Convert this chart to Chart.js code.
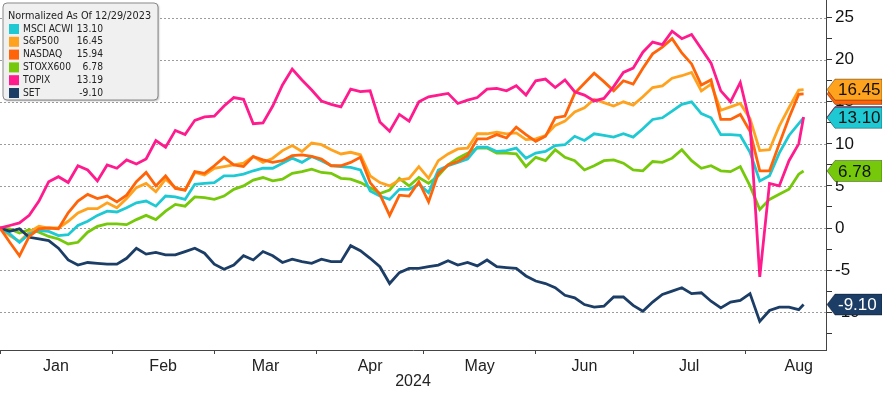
<!DOCTYPE html>
<html>
<head>
<meta charset="utf-8">
<script src="https://cdn.jsdelivr.net/npm/chart.js@4.4.1/dist/chart.umd.min.js"></script>
<style>
  html, body { margin: 0; padding: 0; background: #fff; }
  #wrap { width: 882px; height: 393px; position: relative; }
</style>
</head>
<body>
<div id="wrap"><canvas id="chart"></canvas></div>
<script>
// trading-day index (weekdays), 0 = Jan 1 2024
const days = [0,2,4,6,8,10,12,14,16,18,20,22,24,26,28,30,32,34,36,38,40,42,44,46,48,50,
    52,54,56,58,60,62,64,66,68,70,72,74,76,78,80,82,84,86,88,90,92,94,96,98,100,102,104,
    106,108,110,112,114,116,118,120,122,124,126,128,130,132,134,136,138,140,142,144,146,
    148,150,152,154,156,158,160,162,164,165];

const monthNames = ['Jan', 'Feb', 'Mar', 'Apr', 'May', 'Jun', 'Jul', 'Aug'];
const monthStarts = [0, 23, 44, 65, 87, 110, 130, 153, 175];
const yTickValues = [-12.5, -10, -7.5, -5, -2.5, 0, 2.5, 5, 7.5, 10, 12.5, 15, 17.5, 20, 22.5, 25];

const seriesNames = ['MSCI ACWI', 'S&P500', 'NASDAQ', 'STOXX600', 'TOPIX', 'SET'];
const seriesColors = ['#1fc9d3', '#ffa31f', '#ff6408', '#76c80a', '#ff1b8d', '#1b3d66'];
const lastValues = [13.10, 16.45, 15.94, 6.78, 13.19, -9.10];

const msci = [0,-0.7,-1.7,-0.7,-0.3,-0.4,-0.9,-0.8,0.3,0.8,1.5,2.0,1.9,2.4,3.0,3.2,2.6,3.8,3.7,3.4,
    5.2,5.3,5.4,6.2,6.2,6.4,6.8,7.1,7.1,7.7,8.3,7.8,8.5,8.0,7.4,7.3,7.2,6.9,4.4,3.8,
    3.4,4.6,4.6,5.2,4.2,6.9,7.4,7.8,8.2,9.6,9.6,9.1,9.2,9.5,8.3,8.9,9.1,9.8,9.9,10.9,
    10.4,11.2,11.0,10.8,11.2,10.8,11.8,12.9,13.1,13.9,14.7,15.0,13.6,13.1,11.1,11.1,11.0,9.0,5.6,6.2,
    8.9,11.0,12.4,13.10];
const spx = [0,-0.9,-1.6,-0.5,0.2,0,0,0.8,1.8,2.3,2.3,3.0,2.4,3.5,4.8,5.3,4.3,5.8,4.8,4.5,
    6.6,6.3,7.1,7.3,7.5,7.7,8.5,7.8,8.3,9.2,9.8,9.1,10.1,9.9,9.3,8.8,9.0,8.7,6.2,5.4,
    5.0,5.7,5.9,7.3,5.9,8.0,8.8,9.4,9.5,11.2,11.2,11.4,11.2,11.3,10.5,10.6,11.0,12.2,12.7,13.8,
    14.3,15.3,14.9,14.5,15.0,14.6,15.6,16.7,16.9,17.8,18.1,18.5,16.3,17.1,14.0,14.4,14.8,13.0,9.2,9.3,
    12.1,14.3,16.4,16.45];
const nasdaq = [0,-1.7,-3.3,-1.0,-0.1,0,-0.1,1.8,3.2,4.0,3.5,3.8,3.1,3.9,5.5,6.6,5.0,6.2,4.7,4.5,
    6.7,6.5,7.4,8.4,7.5,7.3,8.5,8.1,7.8,8.0,8.6,8.7,8.5,8.2,7.4,7.4,7.8,8.4,5.4,4.0,
    1.5,3.9,3.8,5.5,3.1,6.5,7.5,7.9,8.6,10.6,10.6,11.1,10.7,12.0,11.1,10.3,10.9,13.1,13.3,16.0,
    17.2,18.4,17.4,16.3,17.5,17.1,19.0,20.7,21.5,22.5,20.8,19.5,17.0,17.6,12.9,12.9,13.5,11.5,6.8,6.8,
    10.0,13.1,15.9,15.94];
const stoxx = [0,-0.1,-0.6,-0.2,-0.5,-1.0,-1.3,-1.9,-1.7,-0.5,0.2,0.5,0.5,0.4,1.0,1.5,1.0,2.0,2.8,2.6,
    3.7,3.6,3.4,3.8,4.6,5.0,5.7,6.0,5.6,5.8,6.5,6.7,7.0,6.6,6.5,5.9,5.8,5.4,4.8,4.1,
    4.5,5.9,5.0,6.0,5.3,6.2,7.5,8.3,8.9,9.5,9.5,8.9,8.9,8.8,7.3,8.4,8.0,9.3,8.4,8.0,
    6.9,7.4,8.0,8.1,7.7,6.9,6.8,7.9,7.8,8.3,9.3,8.0,7.1,7.4,6.8,6.7,7.3,5.0,2.2,3.4,
    4.0,4.6,6.4,6.78];
const topix = [0,0.3,0.6,1.5,3.2,5.5,6.1,5.4,7.4,6.9,5.6,7.5,7.1,8.1,7.6,8.2,10.4,9.6,11.6,11.1,
    12.8,13.2,13.3,14.5,15.5,15.3,12.4,12.5,14.5,17.0,18.9,17.6,16.4,15.1,14.7,14.4,16.5,16.2,16.3,12.6,
    11.5,13.5,12.7,15.0,15.6,15.8,16.0,14.8,15.2,15.5,16.5,16.6,16.3,16.9,15.8,17.5,17.7,16.7,17.6,16.2,
    15.8,15.1,15.4,16.8,18.5,19.0,20.9,22.1,21.8,23.4,22.5,23.0,21.3,19.6,16.3,15.0,17.3,12.5,-5.8,5.3,
    5.0,8.0,10.0,13.19];
const setIdx = [0,-0.4,-0.1,-1.1,-1.3,-1.5,-2.4,-3.8,-4.4,-4.1,-4.2,-4.3,-4.3,-3.6,-2.4,-3.1,-2.9,-3.2,-3.2,-2.8,
    -2.4,-3.0,-4.3,-4.9,-4.4,-3.3,-3.8,-2.8,-3.3,-4.1,-3.7,-4.0,-4.2,-3.7,-4.0,-4.0,-2.1,-2.7,-3.6,-4.6,
    -6.6,-5.3,-4.8,-4.8,-4.6,-4.4,-3.9,-4.4,-4.1,-4.5,-3.8,-4.6,-4.7,-4.8,-5.7,-6.3,-6.6,-7.1,-8.0,-8.3,
    -9.1,-9.4,-9.3,-8.2,-8.2,-9.2,-9.9,-8.8,-7.9,-7.5,-7.1,-7.8,-7.7,-8.7,-9.5,-8.8,-8.6,-7.8,-11.1,-9.8,
    -9.4,-9.4,-9.7,-9.10];

const allSeries = [msci, spx, nasdaq, stoxx, topix, setIdx];
const drawOrder = [4, 5, 2, 6, 1, 3]; // lower = on top

const FONT = "'Liberation Sans', Arial, sans-serif";
const LEGEND_FONT = "'DejaVu Sans Condensed', 'DejaVu Sans', sans-serif";

function roundRect(ctx, x, y, w, h, r) {
    ctx.beginPath();
    ctx.moveTo(x + r, y);
    ctx.lineTo(x + w - r, y);
    ctx.quadraticCurveTo(x + w, y, x + w, y + r);
    ctx.lineTo(x + w, y + h - r);
    ctx.quadraticCurveTo(x + w, y + h, x + w - r, y + h);
    ctx.lineTo(x + r, y + h);
    ctx.quadraticCurveTo(x, y + h, x, y + h - r);
    ctx.lineTo(x, y + r);
    ctx.quadraticCurveTo(x, y, x + r, y);
    ctx.closePath();
}

// dotted horizontal grid at the labelled ticks
const dottedGrid = {
    id: 'dottedGrid',
    beforeDatasetsDraw(chart) {
        const { ctx, chartArea: a } = chart;
        const yScale = chart.scales.y;
        ctx.save();
        ctx.setLineDash([2, 2]);
        ctx.strokeStyle = '#9c9c9c';
        ctx.lineWidth = 1;
        yTickValues.filter(v => v % 5 === 0).forEach(v => {
            const py = Math.round(yScale.getPixelForValue(v)) + 0.5;
            ctx.beginPath();
            ctx.moveTo(a.left, py);
            ctx.lineTo(a.right, py);
            ctx.stroke();
        });
        ctx.restore();
    }
};

// legend box and the value tags on the right axis
const overlay = {
    id: 'overlay',
    afterDraw(chart) {
        const ctx = chart.ctx;
        const yScale = chart.scales.y;

        ctx.save();
        ctx.shadowColor = 'rgba(0,0,0,0.3)';
        ctx.shadowOffsetX = 1;
        ctx.shadowOffsetY = 1;
        ctx.shadowBlur = 2;
        roundRect(ctx, 3, 3, 155, 97, 4);
        ctx.fillStyle = '#f0f0f0';
        ctx.fill();
        ctx.restore();
        ctx.save();
        roundRect(ctx, 3, 3, 155, 97, 4);
        ctx.strokeStyle = '#8a8a8a';
        ctx.lineWidth = 1;
        ctx.stroke();

        ctx.fillStyle = '#222';
        ctx.textBaseline = 'middle';
        ctx.textAlign = 'left';
        ctx.font = '10.8px ' + LEGEND_FONT;
        ctx.fillText('Normalized As Of 12/29/2023', 8, 16);
        ctx.font = '10.2px ' + LEGEND_FONT;
        seriesNames.forEach((name, i) => {
            const yy = 29 + i * 12.8;
            ctx.fillStyle = seriesColors[i];
            ctx.fillRect(9, yy - 5, 10, 10);
            ctx.fillStyle = '#222';
            ctx.textAlign = 'left';
            ctx.fillText(name, 23, yy);
            ctx.textAlign = 'right';
            ctx.fillText(lastValues[i].toFixed(2), 103, yy);
        });

        const tagOrder = [5, 4, 3, 2, 1, 0];
        ctx.font = '17px ' + FONT;
        ctx.textAlign = 'left';
        tagOrder.forEach(i => {
            const yy = yScale.getPixelForValue(lastValues[i]);
            ctx.beginPath();
            ctx.moveTo(827, yy);
            ctx.lineTo(835, yy - 10.5);
            ctx.lineTo(882, yy - 10.5);
            ctx.lineTo(882, yy + 10.5);
            ctx.lineTo(835, yy + 10.5);
            ctx.closePath();
            ctx.fillStyle = seriesColors[i];
            ctx.fill();
            ctx.strokeStyle = 'rgba(0,0,0,0.35)';
            ctx.lineWidth = 1;
            ctx.stroke();
            ctx.fillStyle = i === 5 ? '#fff' : '#111';
            ctx.fillText(lastValues[i].toFixed(2), 838, yy + 1);
        });
        ctx.restore();
    }
};

const datasets = allSeries.map((vals, i) => ({
    label: seriesNames[i],
    data: days.map((d, k) => ({ x: d, y: vals[k] })),
    borderColor: seriesColors[i],
    borderWidth: 2.8,
    pointRadius: 0,
    tension: 0,
    order: drawOrder[i],
    xAxisID: 'x',
    yAxisID: 'y'
}));

new Chart(document.getElementById('chart'), {
    type: 'line',
    data: { datasets },
    plugins: [dottedGrid, overlay],
    options: {
        responsive: true,
        maintainAspectRatio: false,
        animation: false,
        layout: { padding: 0 },
        plugins: { legend: { display: false }, tooltip: { enabled: false } },
        scales: {
            x: {
                type: 'linear',
                position: 'bottom',
                min: 0,
                max: 169.6,
                weight: 0,
                afterBuildTicks: s => { s.ticks = monthStarts.filter(v => v <= 169.6).map(v => ({ value: v })); },
                afterFit: s => { s.height = 5; s.paddingLeft = 0; s.paddingRight = 0; },
                ticks: { callback: () => '', autoSkip: false, maxRotation: 0 },
                grid: { drawOnChartArea: false, drawTicks: true, tickLength: 4, tickColor: '#444' },
                border: { display: true, color: '#444', width: 1 }
            },
            x2: {
                type: 'linear',
                position: 'bottom',
                min: 0,
                max: 169.6,
                weight: 1,
                afterBuildTicks: s => {
                    s.ticks = monthNames.map((m, k) => ({ value: (monthStarts[k] + monthStarts[k + 1]) / 2 }));
                },
                afterFit: s => { s.height = 38; s.paddingLeft = 0; s.paddingRight = 0; },
                ticks: {
                    autoSkip: false,
                    maxRotation: 0,
                    padding: 2,
                    color: '#222',
                    font: { family: FONT, size: 16 },
                    callback: (v, k) => monthNames[k]
                },
                title: {
                    display: true, text: '2024', color: '#222',
                    font: { family: FONT, size: 16 }, padding: { top: 0, bottom: 2 }
                },
                grid: { display: false, drawTicks: false, tickLength: 0 },
                border: { display: false }
            },
            y: {
                type: 'linear',
                position: 'right',
                min: -14.5,
                max: 27.1,
                afterBuildTicks: s => { s.ticks = yTickValues.map(v => ({ value: v })); },
                afterFit: s => { s.width = 56; s.paddingTop = 0; s.paddingBottom = 0; },
                ticks: {
                    autoSkip: false,
                    padding: 3,
                    color: '#111',
                    font: { family: FONT, size: 17 },
                    callback: v => (Math.abs(v % 5) < 1e-9 ? v : '')
                },
                grid: {
                    drawOnChartArea: false,
                    tickColor: '#333',
                    tickLength: 6
                },
                border: { display: true, color: '#444', width: 1 }
            }
        }
    }
});
</script>
</body>
</html>
